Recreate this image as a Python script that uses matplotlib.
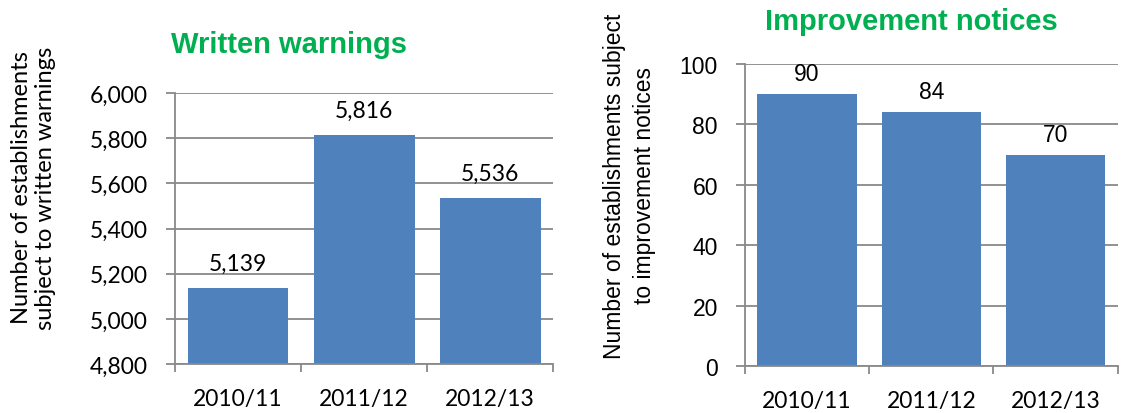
import matplotlib

matplotlib.use("Agg")
import matplotlib.pyplot as plt
from matplotlib.ticker import FuncFormatter

plt.rcParams.update({"font.family": ["Liberation Sans", "DejaVu Sans"], "font.size": 16.5})

years = ["2010/11", "2011/12", "2012/13"]
warnings = [5139, 5816, 5536]
notices = [90, 84, 70]

BAR = "#4F81BD"
GRID = "#898989"
GREEN = "#00B050"
CAL = ["Lato", "DejaVu Sans"]   # stand-in for Calibri
ARI = ["Liberation Sans", "DejaVu Sans"]


def style(ax, ylim, step, tickfont):
    ax.set_ylim(*ylim)
    ax.set_yticks(range(ylim[0], ylim[1] + 1, step))
    ax.yaxis.set_major_formatter(FuncFormatter(lambda v, _: f"{int(v):,}"))
    ax.grid(axis="y", color=GRID, lw=1.3)
    ax.set_axisbelow(True)
    for s in ("top", "right"):
        ax.spines[s].set_visible(False)
    for s in ("left", "bottom"):
        ax.spines[s].set_color(GRID)
        ax.spines[s].set_linewidth(1.3)
    ax.tick_params(axis="y", length=6.5, color=GRID, width=1.3, pad=13)
    ax.tick_params(axis="x", which="major", length=0, pad=17)
    ax.set_xticks([-0.5, 0.5, 1.5, 2.5], minor=True)
    ax.tick_params(axis="x", which="minor", length=5.5, color=GRID, width=1.3)
    ax.set_xlim(-0.5, 2.5)
    for lab in ax.get_yticklabels():
        lab.set_family(tickfont)
    for lab in ax.get_xticklabels():
        lab.set_family(CAL)


fig = plt.figure(figsize=(11.22, 4.14), dpi=100)

# written warnings
ax1 = fig.add_axes([0.156, 0.118, 0.337, 0.655])
ax1.bar(years, warnings, width=0.8, color=BAR)
style(ax1, (4800, 6000), 200, CAL)
for i, v in enumerate(warnings):
    ax1.annotate(f"{v:,}", (i, v), xytext=(0, 13), textcoords="offset points",
                 ha="center", va="baseline", family=CAL)
fig.text(0.0299, 0.546, "Number of establishments\nsubject to written warnings",
         rotation=90, ha="center", va="center", multialignment="center", family=CAL,
         fontsize=17)
fig.text(0.258, 0.872, "Written warnings", color=GREEN, fontsize=21, fontweight="bold",
         ha="center", va="baseline")

# improvement notices
ax2 = fig.add_axes([0.664, 0.1135, 0.332, 0.7295])
ax2.bar(years, notices, width=0.8, color=BAR)
style(ax2, (0, 100), 20, ARI)
for i, v in enumerate(notices):
    ax2.annotate(f"{v}", (i, v), xytext=(0, 10), textcoords="offset points",
                 ha="center", va="baseline")
fig.text(0.561, 0.551, "Number of establishments subject\nto improvement notices",
         rotation=90, ha="center", va="center", multialignment="center", linespacing=1.35)
fig.text(0.812, 0.9275, "Improvement notices", color=GREEN, fontsize=21, fontweight="bold",
         ha="center", va="baseline")

fig.savefig("out.png", dpi=100)
